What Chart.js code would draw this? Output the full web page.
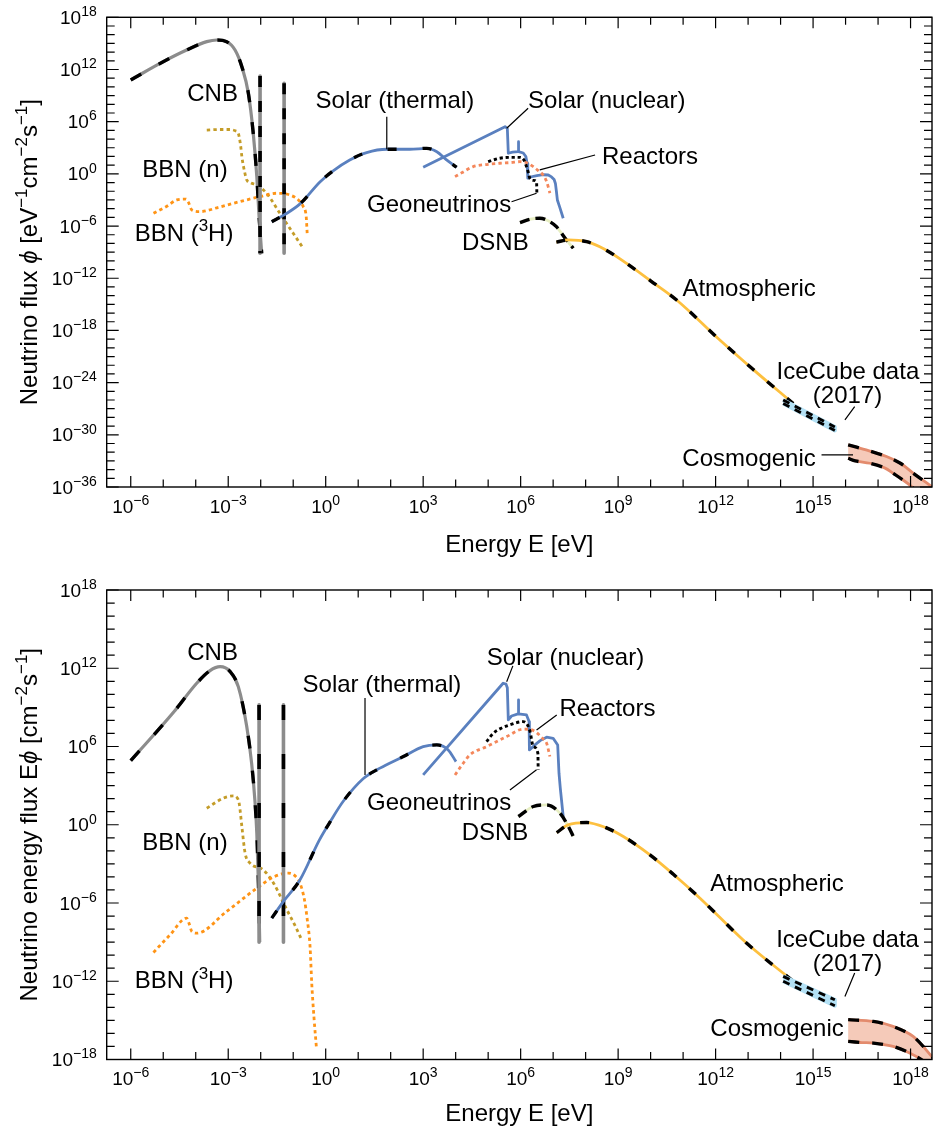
<!DOCTYPE html>
<html lang="en">
<head>
<meta charset="utf-8">
<title>Neutrino flux spectrum</title>
<script src="https://cdn.jsdelivr.net/npm/chart.js@4.4.1/dist/chart.umd.min.js"></script>
<style>
  html, body { margin: 0; padding: 0; background: #ffffff; }
  #page { position: relative; width: 933px; height: 1130px; overflow: hidden; background: #ffffff; }
  #page canvas { position: absolute; left: 0; }
</style>
</head>
<body>
<div id="page">
  <canvas id="fluxChart" width="933" height="565" style="top:0;width:933px;height:565px"></canvas>
  <canvas id="energyChart" width="933" height="565" style="top:565px;width:933px;height:565px"></canvas>
</div>
<script>
// All values are log10: energy in eV, flux phi in eV^-1 cm^-2 s^-1, energy flux E*phi in cm^-2 s^-1.

// ---------- axes ----------
const xAxisLogMin = -6.74, xAxisLogMax = 18.66;
const fluxAxisLogMin = -36, fluxAxisLogMax = 18;
const energyAxisLogMin = -18, energyAxisLogMax = 18;
const xTickLabelExps = [-6, -3, 0, 3, 6, 9, 12, 15, 18];
const fluxTickLabelExps = [18, 12, 6, 0, -6, -12, -18, -24, -30, -36];
const energyTickLabelExps = [18, 12, 6, 0, -6, -12, -18];

// ---------- number flux phi ----------
const fluxCnbLogE = [-6, -5.0, -4.28, -3.66, -3.35, -3.05, -2.79, -2.58, -2.38, -2.23, -2.12, -2.05, -1.97];
const fluxCnbLogV = [10.8, 12.9, 14.24, 15.2, 15.39, 15.2, 14.24, 12.32, 9.26, 4.67, -0.32, -4.92, -9.13];
const fluxCnbMassLogE = [-2.02, -1.28];
const fluxCnbMassTopLogV = [11.25, 10.41];
const fluxCnbMassBottomLogV = [-9.13, -9.13];

const fluxBbnNLogE = [-3.66, -3.3, -2.95, -2.78, -2.69, -2.62, -2.58, -2.5, -2.43, -2.3, -2.12, -1.82, -1.41, -1.0, -0.69];
const fluxBbnNLogV = [5.04, 5.1, 5.1, 4.95, 4.67, 3.3, 1.98, 0.3, -0.7, -1.05, -1.28, -2.23, -4.53, -6.83, -8.55];

const fluxBbnTLogE = [-5.3, -4.9, -4.58, -4.3, -4.22, -4.12, -3.87, -3.3, -2.84, -2.02, -1.51, -1.1, -0.84, -0.69, -0.6, -0.57];
const fluxBbnTLogV = [-4.53, -3.75, -3.0, -2.9, -3.3, -4.15, -4.34, -3.85, -3.38, -2.62, -2.23, -2.43, -3.0, -3.77, -4.92, -6.83];

const fluxSolarThLogE = [-1.66, -1.28, -0.79, -0.17, 0.23, 0.74, 1.26, 1.88, 2.59, 3.11, 3.42, 3.72, 4.03];
const fluxSolarThLogV = [-5.5, -4.72, -3.45, -0.9, 0.35, 1.6, 2.45, 2.83, 2.83, 2.94, 2.55, 1.6, 0.76];

const fluxSolarNucLogE = [3.0, 5.52, 5.59, 5.62, 5.75, 5.92, 5.93, 5.94, 6.08, 6.16, 6.2, 6.22, 6.3, 6.5, 6.7, 6.85, 6.95, 7.03, 7.07, 7.1, 7.13, 7.2, 7.31];
const fluxSolarNucLogV = [0.76, 5.43, 5.24, 2.37, 2.5, 2.55, 3.7, 2.55, 2.4, 2.0, 1.2, -0.5, -0.36, -0.2, -0.1, -0.13, -0.35, -0.65, -1.1, -2.0, -3.0, -3.8, -5.1];

const fluxReactorLogE = [3.98, 4.2, 4.54, 5.0, 5.36, 5.7, 5.98, 6.2, 6.39, 6.55, 6.69, 6.8, 6.9];
const fluxReactorLogV = [-0.32, 0.15, 0.83, 1.1, 1.22, 1.3, 1.4, 1.25, 0.83, 0.35, -0.13, -0.9, -2.2];

const fluxGeoLogE = [5.0, 5.2, 5.36, 5.7, 5.98, 6.1, 6.18, 6.24, 6.28, 6.4, 6.49, 6.5];
const fluxGeoLogV = [1.4, 1.65, 1.8, 1.9, 1.9, 1.6, 0.83, 0.1, -0.5, -0.75, -0.9, -2.4];

const fluxDsnbLogE = [5.98, 6.3, 6.59, 6.85, 7.1, 7.41, 7.62];
const fluxDsnbLogV = [-5.6, -5.2, -5.1, -5.4, -6.07, -7.6, -8.55];

const fluxAtmLogE = [7.1, 7.46, 8.03, 8.6, 9.26, 10.0, 10.8, 12.13, 13.16, 14.39];
const fluxAtmLogV = [-7.85, -7.6, -7.8, -8.7, -10.3, -12.3, -14.5, -19.1, -22.5, -26.4];

const fluxIceCubeLogE = [14.08, 15.67];
const fluxIceCubeHighLogV = [-26.0, -29.1];
const fluxIceCubeLowLogV = [-26.4, -29.5];

const fluxCosmoHighLogE = [16.08, 16.6, 17.26, 17.7, 18.08, 18.65, 18.9];
const fluxCosmoHighLogV = [-31.16, -31.7, -32.5, -33.3, -34.41, -35.95, -36.8];
const fluxCosmoLowLogE = [16.08, 16.3, 16.75, 17.2, 17.46, 17.97, 18.3];
const fluxCosmoLowLogV = [-32.7, -33.0, -33.27, -33.8, -34.41, -35.76, -37.0];

// ---------- energy flux E*phi ----------
const energyCnbLogE = [-6, -4.69, -3.97, -3.56, -3.25, -2.94, -2.69, -2.43, -2.28, -2.18, -2.12, -2.07, -2.03];
const energyCnbLogV = [4.92, 8.6, 10.85, 11.82, 12.12, 11.74, 10.59, 7.53, 4.72, 1.91, -0.64, -4.5, -9.0];
const energyCnbMassLogE = [-2.05, -1.3];
const energyCnbMassTopLogV = [9.19, 9.19];
const energyCnbMassBottomLogV = [-9.0, -9.0];

const energyBbnNLogE = [-3.66, -3.15, -2.84, -2.72, -2.66, -2.58, -2.48, -2.33, -1.92, -1.6, -1.2, -0.95, -0.74];
const energyBbnNLogV = [1.27, 2.04, 2.21, 2.05, 1.6, -0.14, -2.18, -2.94, -3.46, -4.5, -6.5, -7.7, -8.82];

const energyBbnTLogE = [-5.3, -4.79, -4.28, -4.2, -4.12, -3.97, -3.05, -2.12, -1.6, -1.15, -0.95, -0.79, -0.65, -0.58, -0.48, -0.43, -0.36, -0.28];
const energyBbnTLogV = [-9.79, -8.44, -7.16, -7.6, -8.18, -8.31, -6.65, -4.86, -4.0, -3.71, -3.9, -4.48, -5.8, -7.03, -9.4, -12.14, -14.8, -17.25];

const energySolarThLogE = [-1.66, -1.3, -0.79, -0.2, 0.13, 0.54, 1.16, 1.67, 2.39, 3.0, 3.42, 3.77, 4.01];
const energySolarThLogV = [-7.16, -5.88, -4.22, -1.2, 0.2, 1.8, 3.55, 4.34, 5.23, 5.99, 6.12, 5.74, 4.84];

const energySolarNucLogE = [3.0, 5.46, 5.55, 5.59, 5.62, 5.72, 5.92, 5.93, 5.94, 6.18, 6.26, 6.27, 6.44, 6.6, 6.8, 7.0, 7.14, 7.18, 7.22, 7.31];
const energySolarNucLogV = [3.82, 10.85, 10.78, 10.5, 8.04, 8.34, 8.5, 9.57, 8.5, 8.42, 7.91, 5.74, 6.12, 6.45, 6.71, 6.63, 6.12, 3.95, 2.8, 0.63];

const energyReactorLogE = [3.98, 4.2, 4.44, 4.95, 5.57, 6.08, 6.3, 6.49, 6.68, 6.8, 6.9];
const energyReactorLogV = [3.82, 4.6, 5.36, 5.99, 6.76, 7.33, 7.3, 7.07, 6.6, 6.25, 5.23];

const energyGeoLogE = [4.95, 5.16, 5.4, 5.67, 6.08, 6.2, 6.29, 6.39, 6.53, 6.54];
const energyGeoLogV = [6.38, 7.02, 7.4, 7.66, 7.91, 7.7, 7.14, 5.99, 5.49, 4.21];

const energyDsnbLogE = [5.93, 6.39, 6.8, 7.21, 7.47, 7.62];
const energyDsnbLogV = [0.63, 1.4, 1.52, 0.89, -0.14, -0.9];

const energyAtmLogE = [7.11, 7.46, 8.03, 8.6, 9.16, 9.98, 10.7, 11.52, 12.95, 14.39];
const energyAtmLogV = [-0.6, -0.01, 0.17, -0.2, -0.9, -2.31, -3.8, -5.63, -9.07, -12.0];

const energyIceCubeLogE = [14.08, 15.67];
const energyIceCubeHighLogV = [-11.63, -13.42];
const energyIceCubeLowLogV = [-12.0, -13.88];

const energyCosmoHighLogE = [16.08, 16.85, 17.46, 18.08, 18.65, 18.9];
const energyCosmoHighLogV = [-14.95, -15.08, -15.46, -16.23, -17.76, -18.6];
const energyCosmoLowLogE = [16.08, 16.5, 16.85, 17.46, 17.97, 18.39, 18.9];
const energyCosmoLowLogV = [-16.61, -16.7, -16.74, -16.99, -17.5, -18.1, -19.2];

// ---------- helpers ----------
const FONT = '"Liberation Sans", Arial, Helvetica, sans-serif';
const p10 = v => Math.pow(10, v);
const toPoints = (logE, logV) => logE.map((e, i) => ({ x: p10(e), y: p10(logV[i]) }));
const verticals = (logE, top, bottom) => logE.map((e, i) => [{ x: p10(e), y: p10(top[i]) }, { x: p10(e), y: p10(bottom[i]) }]);
const band = (eHi, vHi, eLo, vLo) => toPoints(eHi, vHi).concat(toPoints(eLo, vLo).reverse());

const COLORS = {
  cnb: '#8c8c8c',
  bbnN: '#c49c28',
  bbnT: '#ff9416',
  solar: '#5a80bf',
  reactor: '#f4875b',
  dsnb: '#e7eec3',
  atm: '#fdc03f',
  ice: '#b3e1f5',
  cosFill: '#f5cab9',
  cosEdge: '#e38b6d'
};

function lineSet(points, color, width, extra) {
  return Object.assign({
    data: points,
    borderColor: color,
    backgroundColor: color,
    borderWidth: width,
    pointRadius: 0,
    pointHoverRadius: 0,
    fill: false,
    tension: 0,
    borderCapStyle: 'butt',
    borderJoinStyle: 'round'
  }, extra || {});
}
const smooth = { cubicInterpolationMode: 'monotone' };
const DOTS = [3.4, 3.2];

function panelDatasets(c, dash) {
  const sets = [];
  // later entries are painted on top
  const add = ds => { ds.order = 1000 - sets.length; sets.push(ds); };
  add(lineSet(c.bbnN, COLORS.bbnN, 2.8, Object.assign({ borderDash: DOTS }, smooth)));
  add(lineSet(c.bbnT, COLORS.bbnT, 2.8, Object.assign({ borderDash: DOTS }, smooth)));
  add(lineSet(c.cnb, COLORS.cnb, 3.2, smooth));
  add(lineSet(c.cnb, '#000', 3.4, Object.assign({ borderDash: dash.cnb }, smooth)));
  c.cnbMass.forEach(m => {
    add(lineSet(m, COLORS.cnb, 3.6));
    add(lineSet(m, '#000', 3.6, { borderDash: dash.mass }));
  });
  add(lineSet(c.solarTh, COLORS.solar, 2.8, smooth));
  add(lineSet(c.solarTh, '#000', 3.3, Object.assign({ borderDash: dash.solarTh }, smooth)));
  add(lineSet(c.solarNuc, COLORS.solar, 2.8));
  add(lineSet(c.reactor, COLORS.reactor, 2.8, Object.assign({ borderDash: DOTS }, smooth)));
  add(lineSet(c.geo, '#000', 2.9, Object.assign({ borderDash: [3.2, 2.8] }, smooth)));
  add(lineSet(c.dsnb, COLORS.dsnb, 2.8, smooth));
  add(lineSet(c.dsnb, '#000', 3.4, Object.assign({ borderDash: dash.dsnb }, smooth)));
  add(lineSet(c.atm, COLORS.atm, 2.8, smooth));
  add(lineSet(c.atm, '#000', 3.4, Object.assign({ borderDash: dash.atm }, smooth)));
  add(lineSet(c.iceBand, COLORS.ice, 4, { fill: 'shape', backgroundColor: COLORS.ice }));
  add(lineSet(c.iceHi, '#000', 2.9, { borderDash: dash.ice }));
  add(lineSet(c.iceLo, '#000', 2.9, { borderDash: dash.ice }));
  add(lineSet(c.cosBand, 'rgba(0,0,0,0)', 1, { fill: 'shape', backgroundColor: COLORS.cosFill, tension: 0.3 }));
  add(lineSet(c.cosHi, COLORS.cosEdge, 2.8, { tension: 0.3 }));
  add(lineSet(c.cosLo, COLORS.cosEdge, 2.8, { tension: 0.3 }));
  add(lineSet(c.cosHi, '#000', 3.3, { tension: 0.3, borderDash: dash.cos }));
  add(lineSet(c.cosLo, '#000', 3.3, { tension: 0.3, borderDash: dash.cos }));
  return sets;
}

const fluxCurves = {
  cnb: toPoints(fluxCnbLogE, fluxCnbLogV),
  cnbMass: verticals(fluxCnbMassLogE, fluxCnbMassTopLogV, fluxCnbMassBottomLogV),
  bbnN: toPoints(fluxBbnNLogE, fluxBbnNLogV),
  bbnT: toPoints(fluxBbnTLogE, fluxBbnTLogV),
  solarTh: toPoints(fluxSolarThLogE, fluxSolarThLogV),
  solarNuc: toPoints(fluxSolarNucLogE, fluxSolarNucLogV),
  reactor: toPoints(fluxReactorLogE, fluxReactorLogV),
  geo: toPoints(fluxGeoLogE, fluxGeoLogV),
  dsnb: toPoints(fluxDsnbLogE, fluxDsnbLogV),
  atm: toPoints(fluxAtmLogE, fluxAtmLogV),
  iceHi: toPoints(fluxIceCubeLogE, fluxIceCubeHighLogV),
  iceLo: toPoints(fluxIceCubeLogE, fluxIceCubeLowLogV),
  iceBand: band(fluxIceCubeLogE, fluxIceCubeHighLogV, fluxIceCubeLogE, fluxIceCubeLowLogV),
  cosHi: toPoints(fluxCosmoHighLogE, fluxCosmoHighLogV),
  cosLo: toPoints(fluxCosmoLowLogE, fluxCosmoLowLogV),
  cosBand: band(fluxCosmoHighLogE, fluxCosmoHighLogV, fluxCosmoLowLogE, fluxCosmoLowLogV)
};

const energyCurves = {
  cnb: toPoints(energyCnbLogE, energyCnbLogV),
  cnbMass: verticals(energyCnbMassLogE, energyCnbMassTopLogV, energyCnbMassBottomLogV),
  bbnN: toPoints(energyBbnNLogE, energyBbnNLogV),
  bbnT: toPoints(energyBbnTLogE, energyBbnTLogV),
  solarTh: toPoints(energySolarThLogE, energySolarThLogV),
  solarNuc: toPoints(energySolarNucLogE, energySolarNucLogV),
  reactor: toPoints(energyReactorLogE, energyReactorLogV),
  geo: toPoints(energyGeoLogE, energyGeoLogV),
  dsnb: toPoints(energyDsnbLogE, energyDsnbLogV),
  atm: toPoints(energyAtmLogE, energyAtmLogV),
  iceHi: toPoints(energyIceCubeLogE, energyIceCubeHighLogV),
  iceLo: toPoints(energyIceCubeLogE, energyIceCubeLowLogV),
  iceBand: band(energyIceCubeLogE, energyIceCubeHighLogV, energyIceCubeLogE, energyIceCubeLowLogV),
  cosHi: toPoints(energyCosmoHighLogE, energyCosmoHighLogV),
  cosLo: toPoints(energyCosmoLowLogE, energyCosmoLowLogV),
  cosBand: band(energyCosmoHighLogE, energyCosmoHighLogV, energyCosmoLowLogE, energyCosmoLowLogV)
};

const fluxDash = { cnb: [12, 20], mass: [11, 14], solarTh: [9, 26], dsnb: [10, 6], atm: [9, 17], ice: [7, 6], cos: [11, 13] };
const energyDash = { cnb: [13, 22], mass: [15, 34], solarTh: [9, 26], dsnb: [10, 6], atm: [9, 17], ice: [7, 6], cos: [11, 13] };

// ---------- text ----------
const T = s => ({ t: s });
const SUP = s => ({ t: s, sup: true });
const IT = s => ({ t: s, it: true });

const PANEL_DECOR = {
  fluxChart: {
    yMin: fluxAxisLogMin, yMax: fluxAxisLogMax, yLabels: fluxTickLabelExps,
    xLabelOffset: 26, xTitleOffset: 65,
    yTitle: [T('Neutrino flux '), IT('\u03d5'), T(' [eV'), SUP('\u22121'), T('cm'), SUP('\u22122'), T('s'), SUP('\u22121'), T(']')],
    notes: [
      { parts: [T('CNB')], x: -3.48, y: 9.36 },
      { parts: [T('Solar (thermal)')], x: 2.13, y: 8.59 },
      { parts: [T('Solar (nuclear)')], x: 8.65, y: 8.61 },
      { parts: [T('Reactors')], x: 9.98, y: 2.17 },
      { parts: [T('BBN (n)')], x: -4.33, y: 0.68 },
      { parts: [T('BBN ('), SUP('3'), T('H)')], x: -4.36, y: -6.74 },
      { parts: [T('Geoneutrinos')], x: 3.49, y: -3.35 },
      { parts: [T('DSNB')], x: 5.22, y: -7.79 },
      { parts: [T('Atmospheric')], x: 13.03, y: -13.06 },
      { parts: [T('IceCube data')], x: 16.07, y: -22.54 },
      { parts: [T('(2017)')], x: 16.06, y: -25.41 },
      { parts: [T('Cosmogenic')], x: 13.03, y: -32.54 }
    ],
    leaders: [
      [1.88, 6.58, 1.88, 2.83],
      [6.23, 7.54, 5.57, 5.24],
      [8.29, 2.17, 6.59, 0.45],
      [5.72, -3.2, 6.49, -2.23],
      [16.28, -26.76, 15.98, -28.29],
      [15.26, -32.31, 16.23, -32.31]
    ]
  },
  energyChart: {
    yMin: energyAxisLogMin, yMax: energyAxisLogMax, yLabels: energyTickLabelExps,
    xLabelOffset: 25, xTitleOffset: 61,
    yTitle: [T('Neutrino energy flux E'), IT('\u03d5'), T(' [cm'), SUP('\u22122'), T('s'), SUP('\u22121'), T(']')],
    notes: [
      { parts: [T('CNB')], x: -3.48, y: 13.33 },
      { parts: [T('Solar (thermal)')], x: 1.73, y: 10.87 },
      { parts: [T('Solar (nuclear)')], x: 7.38, y: 12.89 },
      { parts: [T('Reactors')], x: 8.67, y: 8.96 },
      { parts: [T('Geoneutrinos')], x: 3.49, y: 1.76 },
      { parts: [T('DSNB')], x: 5.21, y: -0.54 },
      { parts: [T('BBN (n)')], x: -4.33, y: -1.31 },
      { parts: [T('BBN ('), SUP('3'), T('H)')], x: -4.36, y: -11.89 },
      { parts: [T('Atmospheric')], x: 13.89, y: -4.41 },
      { parts: [T('IceCube data')], x: 16.06, y: -8.74 },
      { parts: [T('(2017)')], x: 16.06, y: -10.58 },
      { parts: [T('Cosmogenic')], x: 13.89, y: -15.56 }
    ],
    leaders: [
      [1.21, 9.72, 1.21, 3.82],
      [5.76, 12.18, 5.57, 10.97],
      [7.11, 8.42, 6.49, 7.27],
      [5.67, 2.67, 6.49, 4.21],
      [16.28, -11.37, 15.98, -13.17]
    ]
  }
};

function drawRich(ctx, parts, x, y, align, size, supScale) {
  const supSize = Math.round(size * (supScale || 0.72));
  const items = parts.map(p => {
    const font = (p.it ? 'italic ' : '') + (p.sup ? supSize : size) + 'px ' + FONT;
    ctx.font = font;
    return { p, font, w: ctx.measureText(p.t).width };
  });
  const total = items.reduce((s, it) => s + it.w, 0);
  let cx = align === 'center' ? x - total / 2 : (align === 'right' ? x - total : x);
  ctx.textAlign = 'left';
  ctx.textBaseline = 'alphabetic';
  items.forEach(it => {
    ctx.font = it.font;
    ctx.fillText(it.p.t, cx, it.p.sup ? y - size * 0.41 : y);
    cx += it.w;
  });
}

const expText = e => (e < 0 ? '\u2212' + (-e) : String(e));

const decorationsPlugin = {
  id: 'decorations',
  afterDatasetsDraw(chart) {
    const cfg = PANEL_DECOR[chart.canvas.id];
    const ctx = chart.ctx;
    const a = chart.chartArea;
    const xs = chart.scales.x, ys = chart.scales.y;
    const X = e => xs.getPixelForValue(p10(e));
    const Y = v => ys.getPixelForValue(p10(v));
    ctx.save();
    ctx.strokeStyle = '#000';
    ctx.fillStyle = '#000';

    // inward ticks on all four sides
    ctx.lineWidth = 1.2;
    ctx.beginPath();
    for (let e = Math.ceil(xAxisLogMin); e <= Math.floor(xAxisLogMax); e++) {
      const px = X(e);
      const len = xTickLabelExps.includes(e) ? 11 : 7.5;
      ctx.moveTo(px, a.bottom); ctx.lineTo(px, a.bottom - len);
      ctx.moveTo(px, a.top); ctx.lineTo(px, a.top + len);
    }
    for (let v = cfg.yMin; v <= cfg.yMax; v++) {
      const py = Y(v);
      const len = cfg.yLabels.includes(v) ? 12 : 8;
      ctx.moveTo(a.left, py); ctx.lineTo(a.left + len, py);
      ctx.moveTo(a.right, py); ctx.lineTo(a.right - len, py);
    }
    ctx.stroke();

    // frame
    ctx.lineWidth = 1.4;
    ctx.strokeRect(a.left, a.top, a.right - a.left, a.bottom - a.top);

    // tick labels
    xTickLabelExps.forEach(e => {
      drawRich(ctx, [T('10'), SUP(expText(e))], X(e), a.bottom + cfg.xLabelOffset, 'center', 19, 0.74);
    });
    cfg.yLabels.forEach(v => {
      drawRich(ctx, [T('10'), SUP(expText(v))], a.left - 10, Y(v) + 6.6, 'right', 19, 0.74);
    });

    // axis titles
    drawRich(ctx, [T('Energy E [eV]')], (a.left + a.right) / 2, a.bottom + cfg.xTitleOffset, 'center', 24);
    ctx.save();
    ctx.translate(28, (a.top + a.bottom) / 2);
    ctx.rotate(-Math.PI / 2);
    drawRich(ctx, cfg.yTitle, 0, 8.6, 'center', 24);
    ctx.restore();

    // leader lines and curve names
    ctx.lineWidth = 1.2;
    ctx.beginPath();
    cfg.leaders.forEach(l => {
      ctx.moveTo(X(l[0]), Y(l[1]));
      ctx.lineTo(X(l[2]), Y(l[3]));
    });
    ctx.stroke();
    cfg.notes.forEach(n => {
      drawRich(ctx, n.parts, X(n.x), Y(n.y) + 8.6, 'center', 24);
    });
    ctx.restore();
  }
};

function makeChart(canvasId, datasets, yLogMin, yLogMax, padding) {
  return new Chart(document.getElementById(canvasId), {
    type: 'line',
    data: { datasets },
    options: {
      responsive: false,
      devicePixelRatio: 1,
      animation: false,
      events: [],
      layout: { autoPadding: false, padding },
      plugins: { legend: { display: false }, tooltip: { enabled: false } },
      scales: {
        x: { type: 'logarithmic', display: false, bounds: 'data', min: p10(xAxisLogMin), max: p10(xAxisLogMax) },
        y: { type: 'logarithmic', display: false, bounds: 'data', min: p10(yLogMin), max: p10(yLogMax) }
      }
    },
    plugins: [decorationsPlugin]
  });
}

makeChart('fluxChart', panelDatasets(fluxCurves, fluxDash), fluxAxisLogMin, fluxAxisLogMax,
  { left: 106.7, right: 1, top: 17.3, bottom: 78 });
makeChart('energyChart', panelDatasets(energyCurves, energyDash), energyAxisLogMin, energyAxisLogMax,
  { left: 106.7, right: 1, top: 25, bottom: 70.5 });
</script>
</body>
</html>
